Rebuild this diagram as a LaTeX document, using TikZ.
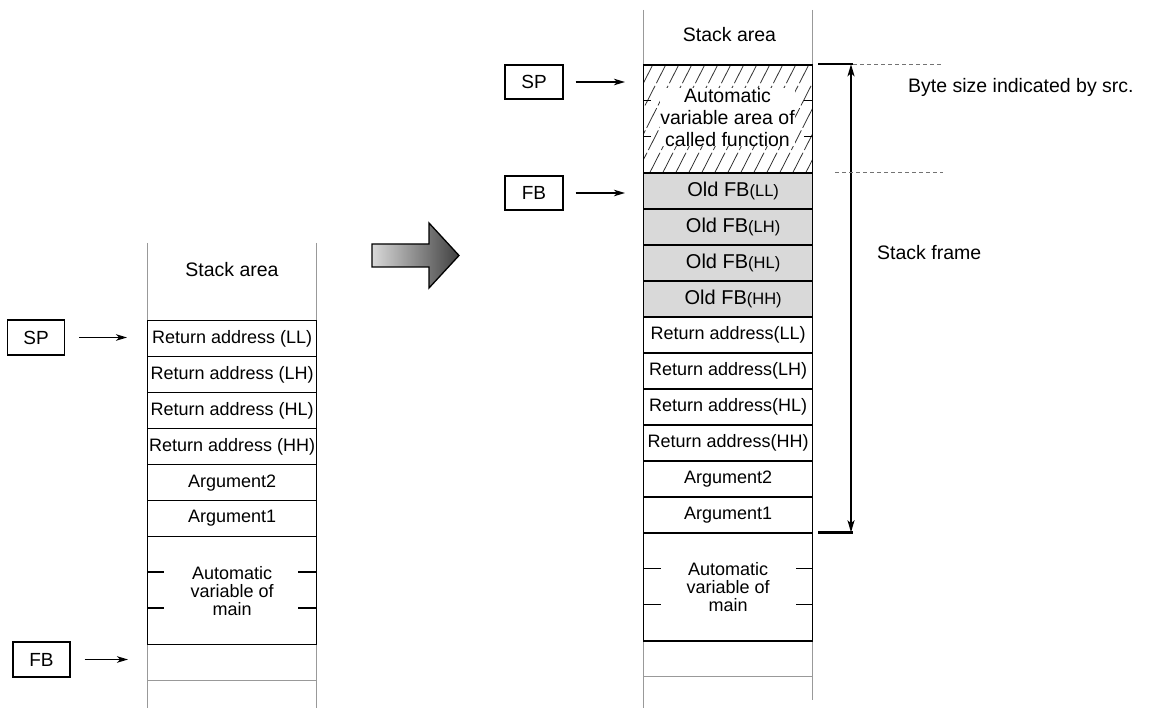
\documentclass[tikz,border=0pt]{standalone}
\usepackage{fontspec}
\setmainfont{Liberation Sans}
\usetikzlibrary{arrows.meta}
\begin{document}
\begin{tikzpicture}[x=1pt,y=-1pt,
  cell/.style={draw=black, line width=1.3pt, minimum width=169pt, minimum height=36pt, inner sep=0pt, anchor=north west, font=\fontsize{18}{21}\selectfont},
  fbcell/.style={cell, fill=black!15},
  bigcell/.style={cell, minimum height=108pt, align=center, font=\fontsize{18}{18}\selectfont},
  regbox/.style={draw=black, line width=1.1pt, minimum width=57pt, minimum height=35pt, inner sep=0pt, font=\fontsize{19}{22}\selectfont},
  ptr/.style={line width=1.3pt, -{Stealth[length=11pt,width=6.5pt,inset=3pt]}, shorten <=14pt},
  rail/.style={draw=black!40, line width=1pt},
  notch/.style={line width=1.3pt},
  lbl/.style={font=\fontsize{19.5}{22}\selectfont, inner sep=0pt}
]
\useasboundingbox (0,0) rectangle (1149,708);

% ---------------- left stack ----------------
\draw[rail] (147,243) -- (147,708);
\draw[rail] (316,243) -- (316,708);
\draw[rail] (147,680) -- (316,680);
\node[lbl] (lsa) at (232,270) {Stack area};
\node[cell] (l1) at (147,320) {Return address (LL)};
\node[cell] (l2) at (147,356) {Return address (LH)};
\node[cell] (l3) at (147,392) {Return address (HL)};
\node[cell] (l4) at (147,428) {Return address (HH)};
\node[cell] (l5) at (147,464) {Argument2};
\node[cell] (l6) at (147,500) {Argument1};
\node[bigcell] (l7) at (147,536) {Automatic\\variable of\\main};
\draw[notch] (147,572) -- (164,572) (298,572) -- (316,572);
\draw[notch] (147,608) -- (164,608) (298,608) -- (316,608);

\node[regbox] (spL) at (36,337.5) {SP};
\coordinate (spLt) at (127,337.5);
\draw[ptr] (spL) -- (spLt);
\node[regbox] (fbL) at (41.5,659.5) {FB};
\coordinate (fbLt) at (128,659.5);
\draw[ptr] (fbL) -- (fbLt);

% ---------------- big arrow ----------------
\shade[left color=black!15, right color=black!75, draw=black, line width=1.3pt]
  (372,244) -- (429,244) -- (429,223) -- (459,255.5) -- (429,288) -- (429,267) -- (372,267) -- cycle;

% ---------------- right stack ----------------
\draw[rail] (643,10) -- (643,708);
\draw[rail] (812,10) -- (812,700);
\draw[rail] (643,676.3) -- (812,676.3);
\node[lbl] (rsa) at (729.5,35) {Stack area};

\begin{scope}
  \clip (643,64.3) rectangle (812,172.3);
  \foreach \i in {0,...,21} {
    \draw[black!80, line width=0.8pt, dash pattern=on 22pt off 3pt] (585+13*\i,172.3) -- (585+13*\i+55,64.3);
  }
\end{scope}
\node[fill=white, inner sep=0pt, align=center, font=\fontsize{19.5}{22}\selectfont] (hatchtxt) at (727.5,117.3) {Automatic\\variable area of\\called function};
\node[cell, minimum height=108pt] (r0) at (643,64.3) {};
\draw[line width=0.9pt] (643,100.3) -- (651,100.3) (804,100.3) -- (812,100.3);
\draw[line width=0.9pt] (643,136.3) -- (651,136.3) (804,136.3) -- (812,136.3);

\node[fbcell] (r1) at (643,172.3) {\hspace{10pt}\fontsize{20}{22}\selectfont Old FB\fontsize{16.5}{20}\selectfont(LL)};
\node[fbcell] (r2) at (643,208.3) {\hspace{10pt}\fontsize{20}{22}\selectfont Old FB\fontsize{16.5}{20}\selectfont(LH)};
\node[fbcell] (r3) at (643,244.3) {\hspace{10pt}\fontsize{20}{22}\selectfont Old FB\fontsize{16.5}{20}\selectfont(HL)};
\node[fbcell] (r4) at (643,280.3) {\hspace{10pt}\fontsize{20}{22}\selectfont Old FB\fontsize{16.5}{20}\selectfont(HH)};
\node[cell] (r5) at (643,316.3) {Return address(LL)};
\node[cell] (r6) at (643,352.3) {Return address(LH)};
\node[cell] (r7) at (643,388.3) {Return address(HL)};
\node[cell] (r8) at (643,424.3) {Return address(HH)};
\node[cell] (r9) at (643,460.3) {Argument2};
\node[cell] (r10) at (643,496.3) {Argument1};
\node[bigcell] (r11) at (643,532.3) {Automatic\\variable of\\main};
\draw[notch] (643,568.3) -- (661,568.3) (796,568.3) -- (812,568.3);
\draw[notch] (643,604.3) -- (661,604.3) (796,604.3) -- (812,604.3);

\node[regbox, minimum width=58pt, minimum height=34pt] (spR) at (534,82) {SP};
\coordinate (spRt) at (625,82);
\draw[ptr, shorten <=12pt] (spR) -- (spRt);
\node[regbox, minimum width=58pt, minimum height=34pt] (fbR) at (534,193) {FB};
\coordinate (fbRt) at (625,193);
\draw[ptr, shorten <=12pt] (fbR) -- (fbRt);

% ---------------- stack frame ----------------
\coordinate (sfT) at (851,64.3);
\coordinate (sfB) at (851,532.3);
\draw[line width=1.8pt, {Stealth[length=12pt,width=7pt,inset=3pt]}-{Stealth[length=12pt,width=7pt,inset=3pt]}] (sfT) -- (sfB);
\draw[line width=2.4pt] (818,64.3) -- (853,64.3);
\draw[line width=2.4pt] (818,532.3) -- (853,532.3);
\draw[black!55, line width=0.7pt, dash pattern=on 4pt off 3pt] (853,64.3) -- (942,64.3);
\draw[black!55, line width=0.7pt, dash pattern=on 4pt off 3pt] (835,172.3) -- (943,172.3);

\node[lbl, anchor=west] (bytes) at (908,87) {Byte size indicated by src.};
\node[lbl, anchor=west] (sframe) at (877,253) {Stack frame};
\end{tikzpicture}
\end{document}
